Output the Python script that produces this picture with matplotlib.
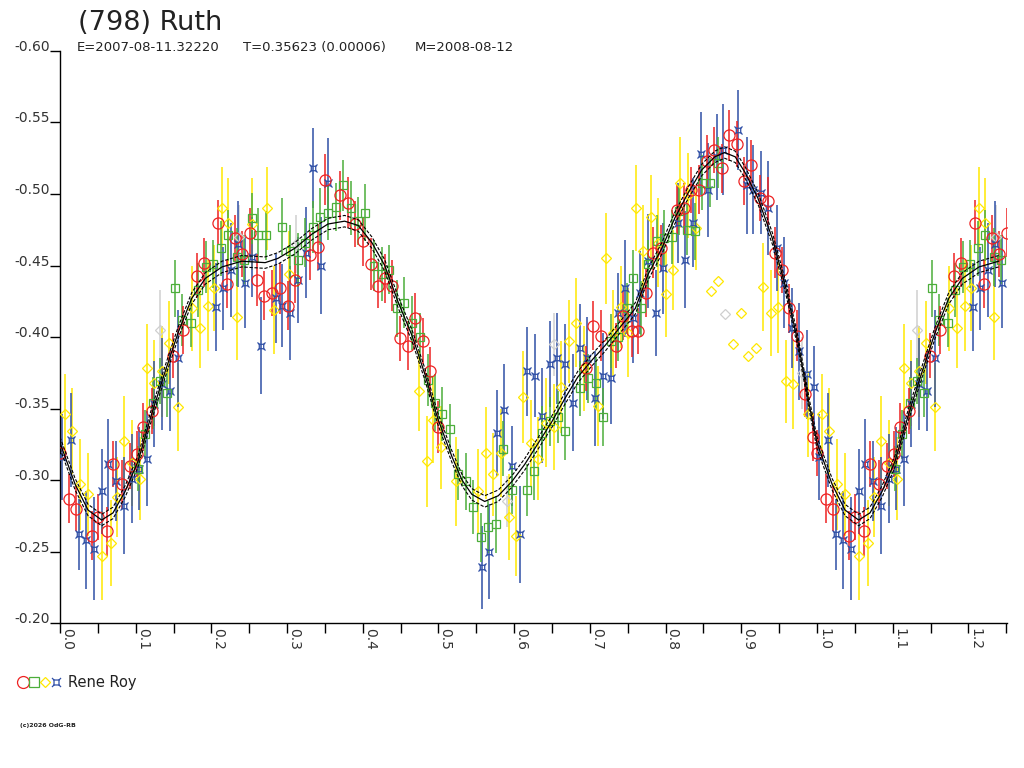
import numpy as np
import matplotlib.pyplot as plt
from matplotlib.path import Path
from matplotlib.lines import Line2D
from matplotlib.legend_handler import HandlerTuple

# lightcurve of (798) Ruth, phase folded, one observer with 4 sessions

title = '(798) Ruth'
subtitle = ['E=2007-08-11.32220', 'T=0.35623 (0.00006)', 'M=2008-08-12']
observer = 'Rene Roy'
footer = '(c)2026 OdG-RB'

# session 1 (red circles)
red_phase = [0.000, 0.012, 0.021, 0.042, 0.050, 0.062, 0.070, 0.082, 0.092, 0.102,
             0.110, 0.122, 0.149, 0.163, 0.181, 0.190, 0.209, 0.221, 0.231, 0.240,
             0.251, 0.260, 0.270, 0.280, 0.291, 0.301, 0.310, 0.330, 0.341, 0.350,
             0.370, 0.380, 0.390, 0.400, 0.411, 0.420, 0.429, 0.439, 0.449, 0.460,
             0.469, 0.480, 0.489, 0.499, 0.695, 0.704, 0.715, 0.735, 0.744, 0.755,
             0.764, 0.774, 0.783, 0.794, 0.815, 0.824, 0.834, 0.844, 0.855, 0.864,
             0.875, 0.884, 0.894, 0.904, 0.913, 0.925, 0.935, 0.944, 0.954, 0.963,
             0.974, 0.984, 0.995]
red_mag = [-0.319, -0.287, -0.280, -0.261, -0.274, -0.264, -0.311, -0.297, -0.310, -0.318,
           -0.337, -0.348, -0.387, -0.405, -0.443, -0.452, -0.480, -0.437, -0.469, -0.458,
           -0.473, -0.440, -0.429, -0.431, -0.434, -0.422, -0.440, -0.457, -0.463, -0.510,
           -0.499, -0.494, -0.479, -0.467, -0.451, -0.436, -0.441, -0.436, -0.399, -0.394,
           -0.413, -0.397, -0.376, -0.337, -0.378, -0.408, -0.401, -0.394, -0.415, -0.404,
           -0.404, -0.431, -0.459, -0.462, -0.489, -0.490, -0.503, -0.503, -0.523, -0.531,
           -0.518, -0.541, -0.535, -0.509, -0.520, -0.497, -0.495, -0.459, -0.447, -0.420,
           -0.401, -0.360, -0.330]
red_err = [0.016, 0.017, 0.016, 0.017, 0.016, 0.017, 0.016, 0.017, 0.016, 0.016,
           0.017, 0.016, 0.016, 0.017, 0.016, 0.017, 0.016, 0.017, 0.016, 0.016,
           0.017, 0.018, 0.017, 0.016, 0.018, 0.017, 0.016, 0.017, 0.016, 0.018,
           0.017, 0.018, 0.016, 0.017, 0.018, 0.016, 0.017, 0.018, 0.016, 0.017,
           0.018, 0.016, 0.017, 0.018, 0.016, 0.017, 0.018, 0.016, 0.017, 0.018,
           0.016, 0.017, 0.018, 0.016, 0.017, 0.018, 0.016, 0.017, 0.018, 0.016,
           0.017, 0.018, 0.016, 0.017, 0.018, 0.016, 0.017, 0.018, 0.016, 0.017,
           0.018, 0.016, 0.017]

# session 2 (green squares)
green_phase = [0.103, 0.112, 0.123, 0.132, 0.141, 0.152, 0.161, 0.173, 0.182, 0.193,
               0.202, 0.213, 0.222, 0.234, 0.243, 0.254, 0.262, 0.272, 0.293, 0.304,
               0.314, 0.324, 0.334, 0.344, 0.354, 0.365, 0.374, 0.385, 0.394, 0.403,
               0.415, 0.425, 0.435, 0.445, 0.455, 0.465, 0.476, 0.486, 0.495, 0.505,
               0.515, 0.526, 0.536, 0.546, 0.556, 0.565, 0.576, 0.585, 0.597, 0.617,
               0.626, 0.637, 0.647, 0.658, 0.667, 0.687, 0.698, 0.708, 0.717, 0.728,
               0.737, 0.749, 0.757, 0.767, 0.777, 0.789, 0.798, 0.808, 0.818, 0.828,
               0.839, 0.848, 0.859, 0.869]
green_mag = [-0.308, -0.332, -0.354, -0.369, -0.361, -0.434, -0.412, -0.410, -0.433, -0.449,
             -0.451, -0.462, -0.471, -0.456, -0.454, -0.483, -0.471, -0.471, -0.477, -0.460,
             -0.454, -0.466, -0.477, -0.484, -0.487, -0.491, -0.506, -0.490, -0.481, -0.487,
             -0.450, -0.444, -0.447, -0.420, -0.424, -0.410, -0.400, -0.370, -0.354, -0.346,
             -0.336, -0.304, -0.299, -0.281, -0.260, -0.267, -0.269, -0.322, -0.293, -0.293,
             -0.306, -0.333, -0.341, -0.344, -0.334, -0.364, -0.371, -0.368, -0.344, -0.397,
             -0.400, -0.420, -0.441, -0.420, -0.451, -0.467, -0.469, -0.470, -0.488, -0.475,
             -0.474, -0.508, -0.508, -0.522]
green_err = [0.016, 0.017, 0.018, 0.016, 0.017, 0.020, 0.018, 0.017, 0.019, 0.018,
             0.017, 0.019, 0.018, 0.020, 0.017, 0.018, 0.019, 0.017, 0.020, 0.018,
             0.019, 0.017, 0.018, 0.020, 0.019, 0.017, 0.018, 0.019, 0.017, 0.020,
             0.018, 0.019, 0.017, 0.020, 0.018, 0.019, 0.017, 0.018, 0.020, 0.019,
             0.017, 0.018, 0.020, 0.019, 0.017, 0.018, 0.020, 0.019, 0.017, 0.018,
             0.020, 0.019, 0.017, 0.018, 0.020, 0.019, 0.017, 0.018, 0.020, 0.019,
             0.017, 0.018, 0.020, 0.019, 0.017, 0.018, 0.020, 0.019, 0.017, 0.018,
             0.020, 0.019, 0.017, 0.018]

# session 3 (yellow diamonds)
yellow_phase = [0.007, 0.016, 0.026, 0.037, 0.055, 0.067, 0.075, 0.085, 0.095, 0.106,
                0.115, 0.124, 0.135, 0.144, 0.156, 0.174, 0.185, 0.196, 0.203, 0.214,
                0.222, 0.234, 0.254, 0.273, 0.283, 0.302, 0.474, 0.485, 0.493, 0.503,
                0.523, 0.552, 0.563, 0.572, 0.583, 0.593, 0.602, 0.612, 0.622, 0.632,
                0.642, 0.653, 0.662, 0.672, 0.682, 0.692, 0.711, 0.721, 0.731, 0.741,
                0.750, 0.761, 0.770, 0.781, 0.790, 0.801, 0.810, 0.819, 0.830, 0.840,
                0.929, 0.939, 0.949, 0.959, 0.968, 0.988]
yellow_mag = [-0.346, -0.334, -0.297, -0.290, -0.247, -0.256, -0.288, -0.327, -0.312, -0.301,
              -0.378, -0.368, -0.376, -0.396, -0.351, -0.420, -0.406, -0.422, -0.434, -0.490,
              -0.480, -0.414, -0.479, -0.490, -0.419, -0.444, -0.362, -0.313, -0.342, -0.323,
              -0.299, -0.292, -0.319, -0.304, -0.319, -0.274, -0.261, -0.358, -0.326, -0.315,
              -0.340, -0.337, -0.365, -0.397, -0.410, -0.378, -0.352, -0.455, -0.403, -0.421,
              -0.403, -0.490, -0.460, -0.484, -0.466, -0.430, -0.447, -0.508, -0.499, -0.476,
              -0.435, -0.417, -0.421, -0.369, -0.367, -0.346]
yellow_err = [0.028, 0.030, 0.032, 0.029, 0.031, 0.030, 0.028, 0.032, 0.030, 0.029,
              0.031, 0.030, 0.032, 0.029, 0.031, 0.030, 0.028, 0.032, 0.030, 0.029,
              0.031, 0.030, 0.032, 0.029, 0.031, 0.030, 0.028, 0.032, 0.030, 0.029,
              0.031, 0.030, 0.032, 0.029, 0.031, 0.030, 0.028, 0.032, 0.030, 0.029,
              0.031, 0.030, 0.032, 0.029, 0.031, 0.030, 0.028, 0.032, 0.030, 0.029,
              0.031, 0.030, 0.032, 0.029, 0.031, 0.030, 0.028, 0.032, 0.030, 0.029,
              0.031, 0.030, 0.032, 0.029, 0.031, 0.030]

# session 3 points shown without error bars
yellow_nobar_phase = [0.860, 0.869, 0.889, 0.900, 0.909, 0.919]
yellow_nobar_mag = [-0.432, -0.439, -0.395, -0.417, -0.387, -0.392]

# session 4 (blue boxes)
blue_phase = [0.003, 0.015, 0.025, 0.035, 0.045, 0.055, 0.064, 0.074, 0.085, 0.095,
              0.105, 0.115, 0.124, 0.135, 0.145, 0.156, 0.206, 0.215, 0.226, 0.235,
              0.244, 0.254, 0.266, 0.285, 0.293, 0.304, 0.314, 0.325, 0.334, 0.345,
              0.354, 0.557, 0.567, 0.577, 0.587, 0.597, 0.608, 0.617, 0.627, 0.637,
              0.647, 0.657, 0.667, 0.678, 0.687, 0.696, 0.707, 0.717, 0.728, 0.737,
              0.746, 0.757, 0.766, 0.777, 0.787, 0.797, 0.816, 0.826, 0.836, 0.847,
              0.856, 0.868, 0.876, 0.896, 0.908, 0.915, 0.926, 0.935, 0.947, 0.956,
              0.967, 0.976, 0.987, 0.996]
blue_mag = [-0.316, -0.328, -0.262, -0.258, -0.252, -0.292, -0.311, -0.299, -0.282, -0.301,
            -0.308, -0.315, -0.353, -0.367, -0.362, -0.385, -0.421, -0.434, -0.447, -0.465,
            -0.438, -0.456, -0.394, -0.427, -0.422, -0.417, -0.440, -0.459, -0.518, -0.450,
            -0.508, -0.239, -0.250, -0.333, -0.349, -0.310, -0.262, -0.376, -0.373, -0.345,
            -0.381, -0.385, -0.381, -0.354, -0.392, -0.385, -0.357, -0.373, -0.371, -0.417,
            -0.434, -0.413, -0.431, -0.453, -0.417, -0.448, -0.480, -0.454, -0.480, -0.528,
            -0.503, -0.526, -0.531, -0.545, -0.506, -0.503, -0.501, -0.490, -0.462, -0.438,
            -0.406, -0.390, -0.374, -0.365]
blue_err = [0.030, 0.033, 0.025, 0.034, 0.036, 0.030, 0.032, 0.028, 0.034, 0.031,
            0.029, 0.033, 0.030, 0.032, 0.028, 0.034, 0.031, 0.029, 0.033, 0.030,
            0.032, 0.028, 0.034, 0.031, 0.029, 0.033, 0.030, 0.032, 0.028, 0.034,
            0.031, 0.029, 0.033, 0.030, 0.032, 0.028, 0.034, 0.031, 0.029, 0.033,
            0.030, 0.032, 0.028, 0.034, 0.031, 0.029, 0.033, 0.030, 0.032, 0.028,
            0.034, 0.031, 0.029, 0.033, 0.030, 0.032, 0.028, 0.034, 0.031, 0.029,
            0.033, 0.030, 0.032, 0.028, 0.034, 0.031, 0.029, 0.033, 0.030, 0.032,
            0.028, 0.034, 0.031, 0.029]

# rejected points (light grey)
grey_phase = [0.132, 0.236, 0.312, 0.590, 0.652, 0.878, 0.980]
grey_mag = [-0.405, -0.470, -0.465, -0.285, -0.395, -0.416, -0.375]
grey_err = [0.028, 0.022, 0.020, 0.018, 0.022, 0.0, 0.025]

fit_phase = [0.000, 0.020, 0.037, 0.055, 0.070, 0.086, 0.103, 0.121, 0.139, 0.156,
             0.174, 0.192, 0.214, 0.240, 0.271, 0.288, 0.310, 0.333, 0.354, 0.376,
             0.394, 0.412, 0.429, 0.447, 0.465, 0.482, 0.499, 0.518, 0.531, 0.544,
             0.561, 0.579, 0.597, 0.614, 0.632, 0.650, 0.667, 0.684, 0.703, 0.720,
             0.737, 0.760, 0.777, 0.795, 0.812, 0.830, 0.848, 0.865, 0.878, 0.892,
             0.905, 0.922, 0.941, 0.958, 0.975, 0.990, 1.000]
fit_mag = [-0.326, -0.297, -0.279, -0.272, -0.277, -0.292, -0.313, -0.346, -0.376, -0.403,
           -0.427, -0.441, -0.449, -0.453, -0.452, -0.455, -0.462, -0.472, -0.479, -0.481,
           -0.478, -0.466, -0.450, -0.424, -0.401, -0.374, -0.343, -0.316, -0.300, -0.290,
           -0.285, -0.289, -0.299, -0.311, -0.326, -0.341, -0.357, -0.372, -0.384, -0.394,
           -0.405, -0.420, -0.444, -0.462, -0.483, -0.501, -0.517, -0.526, -0.529, -0.526,
           -0.515, -0.497, -0.469, -0.436, -0.396, -0.352, -0.326]
fit_band = 0.004

x_ticks = [0.0, 0.1, 0.2, 0.3, 0.4, 0.5, 0.6, 0.7, 0.8, 0.9, 1.0, 1.1, 1.2]
x_labels = ['0.0', '0.1', '0.2', '0.3', '0.4', '0.5', '0.6', '0.7', '0.8', '0.9', '1.0', '1.1', '1.2']
y_ticks = [-0.60, -0.55, -0.50, -0.45, -0.40, -0.35, -0.30, -0.25, -0.20]
y_labels = ['-0.60', '-0.55', '-0.50', '-0.45', '-0.40', '-0.35', '-0.30', '-0.25', '-0.20']

PHASE_MAX = 1.251


def wrap(phase, *cols):
    """repeat the first quarter of the phase after 1.0"""
    p = np.asarray(phase, float)
    keep = p + 1 <= PHASE_MAX
    out = [np.concatenate([p, p[keep] + 1])]
    for c in cols:
        c = np.asarray(c, float)
        out.append(np.concatenate([c, c[keep]]))
    return out


# blue symbol: small box with corner spikes
box_verts = [(-0.55, -0.55), (0.55, -0.55), (0.55, 0.55), (-0.55, 0.55), (-0.55, -0.55),
             (-1, -1), (-0.55, -0.55), (1, -1), (0.55, -0.55),
             (1, 1), (0.55, 0.55), (-1, 1), (-0.55, 0.55)]
box_codes = [Path.MOVETO, Path.LINETO, Path.LINETO, Path.LINETO, Path.CLOSEPOLY,
             Path.MOVETO, Path.LINETO, Path.MOVETO, Path.LINETO,
             Path.MOVETO, Path.LINETO, Path.MOVETO, Path.LINETO]
box_marker = Path(box_verts, box_codes)

RED = '#ee2222'
GREEN = '#4cae3a'
YELLOW = '#ffe800'
BLUE = '#2f4fa6'
GREY = '#cfcfcf'
TXT = '#222222'

fig = plt.figure(figsize=(10.24, 7.68), dpi=100)
ax = fig.add_axes([60/1024, 1 - 623/768, 947/1024, (623 - 51)/768])

styles = [
    (grey_phase, grey_mag, grey_err, 'D', GREY, 5.0),
    (yellow_phase, yellow_mag, yellow_err, 'D', YELLOW, 5.0),
    (blue_phase, blue_mag, blue_err, box_marker, BLUE, 5.8),
    (green_phase, green_mag, green_err, 's', GREEN, 6.3),
    (red_phase, red_mag, red_err, 'o', RED, 8.0),
]
for ph, mg, er, mk, col, ms in styles:
    p, m, e = wrap(ph, mg, er)
    ax.errorbar(p, m, yerr=e, fmt='none', ecolor=col, elinewidth=1.1, capsize=0, zorder=2)
    ax.plot(p, m, ls='none', marker=mk, ms=ms, mfc='none', mec=col, mew=0.9, zorder=3)

p, m = wrap(yellow_nobar_phase, yellow_nobar_mag)
ax.plot(p, m, ls='none', marker='D', ms=5.0, mfc='none', mec=YELLOW, mew=0.9, zorder=3)

# fit curve and its envelope
fp = np.asarray(fit_phase)
fm = np.asarray(fit_mag)
p, m = wrap(fp[:-1], fm[:-1])
order = np.argsort(p)
p, m = p[order], m[order]
ax.plot(p, m, color='black', lw=0.9, zorder=4)
ax.plot(p, m - fit_band, color='black', lw=0.8, ls=(0, (3, 1.5)), zorder=4)
ax.plot(p, m + fit_band, color='black', lw=0.8, ls=(0, (3, 1.5)), zorder=4)

ax.set_xlim(0, PHASE_MAX)
ax.set_ylim(-0.20, -0.60)
for s in ['top', 'right']:
    ax.spines[s].set_visible(False)
for s in ['left', 'bottom']:
    ax.spines[s].set_linewidth(1.0)

ax.set_xticks(x_ticks)
ax.set_xticklabels(x_labels, rotation=270, ha='left', va='top')
ax.set_xticks([t + 0.05 for t in x_ticks], minor=True)
ax.tick_params(axis='x', which='both', direction='out', length=7, width=1.0, pad=-3.5,
               labelsize=10)
ax.set_yticks(y_ticks)
ax.set_yticklabels(y_labels, va='baseline')
ax.tick_params(axis='y', direction='out', length=7, width=1.0, pad=0.5, labelsize=10)
for lab in ax.get_yticklabels():
    lab.set_verticalalignment('baseline')
    lab.set_color('#333333')
for lab in ax.get_xticklabels():
    lab.set_color('#333333')

fig.text(78/1024, 1 - 30/768, title, fontsize=19.5, color=TXT, va='baseline')
for xpos, txt in zip([77, 243, 415], subtitle):
    fig.text(xpos/1024, 1 - 51/768, txt, fontsize=9.5, color=TXT, va='baseline')

handles = (Line2D([], [], ls='none', marker='o', ms=8.6, mfc='none', mec=RED, mew=0.9),
           Line2D([], [], ls='none', marker='s', ms=7.0, mfc='none', mec=GREEN, mew=0.9),
           Line2D([], [], ls='none', marker='D', ms=5.2, mfc='none', mec=YELLOW, mew=0.9),
           Line2D([], [], ls='none', marker=box_marker, ms=6.5, mfc='none', mec=BLUE, mew=0.9))
fig.legend([handles], [observer], handler_map={tuple: HandlerTuple(ndivide=None, pad=0.0)},
           loc='center left', bbox_to_anchor=(18/1024, 1 - 683/768), frameon=False,
           handlelength=3.0, handletextpad=0.45, borderpad=0, borderaxespad=0,
           fontsize=10.5, labelcolor=TXT)

fig.text(20/1024, 1 - 727/768, footer, fontsize=4.5, weight='bold', color=TXT)

fig.savefig('out.png', dpi=100)
